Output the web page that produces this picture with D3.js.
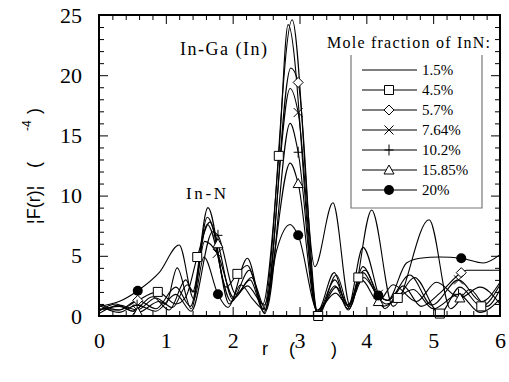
<!DOCTYPE html>
<html>
<head>
<meta charset="utf-8">
<script src="https://cdn.jsdelivr.net/npm/d3@7"></script>
<style>
  body { margin: 0; background: #fff; }
  svg { display: block; }
</style>
</head>
<body>
<svg id="chart" width="509" height="382"></svg>
<script>
// series names (mole fraction of InN) and their marker shapes
const seriesNames = ["1.5%", "4.5%", "5.7%", "7.64%", "10.2%", "15.85%", "20%"];
const markerTypes = ["none", "square", "diamond", "cross", "plus", "triangle", "circle"];

// |F(r)|, [r, value] knots
const in1_5 = [[0,0.4],[0.25,1.0],[0.5,0.4],[0.8,1.6],[1.05,0.5],[1.3,3.0],[1.4,2.0],[1.63,9.0],[1.95,1.0],[2.22,4.8],[2.46,0.6],[2.89,24.6],[3.23,4.1],[3.5,9.4],[3.76,0.8],[4.08,8.8],[4.4,0.8],[4.94,8.0],[5.26,0.6],[5.55,2.2],[5.8,0.8],[6,2.2]];
const in4_5 = [[0,0.6],[0.3,0.5],[0.55,1.2],[0.88,2.0],[1.15,1.0],[1.3,1.6],[1.47,4.9],[1.66,7.8],[1.9,2.4],[2.07,3.5],[2.22,4.2],[2.45,1.0],[2.69,13.3],[2.83,24.2],[3.28,0.0],[3.55,3.4],[3.75,0.6],[3.88,3.2],[3.98,3.8],[4.25,0.8],[4.47,1.5],[4.72,3.2],[5.1,0.2],[5.4,2.4],[5.72,0.8],[6,2.6]];
const in5_7 = [[0,1.0],[0.3,0.5],[0.58,1.3],[0.85,0.6],[1.15,2.4],[1.37,0.8],[1.62,7.6],[1.98,1.2],[2.25,3.8],[2.48,0.2],[2.87,20.6],[2.98,19.4],[3.27,0.4],[3.52,3.6],[3.72,0.6],[3.95,5.7],[4.28,0.6],[4.55,2.5],[4.82,0.8],[5.1,1.9],[5.42,3.6],[5.5,3.8],[6,3.8]];
const in7_64 = [[0,0.2],[0.3,0.9],[0.57,0.5],[0.85,1.5],[1.1,0.7],[1.32,2.6],[1.42,2.0],[1.58,6.2],[1.77,5.2],[2.02,1.5],[2.26,3.0],[2.47,0.3],[2.86,18.9],[2.98,16.9],[3.27,0.3],[3.53,3.0],[3.73,0.8],[3.95,4.1],[4.18,1.8],[4.32,1.3],[4.65,3.4],[4.98,0.9],[5.38,3.0],[5.72,1.2],[6,2.8]];
const in10_2 = [[0,0.9],[0.3,0.3],[0.57,0.9],[0.85,0.4],[1.15,1.8],[1.38,0.4],[1.7,7.0],[1.78,6.7],[2.05,1.8],[2.28,3.2],[2.5,0.5],[2.86,16.0],[2.98,13.6],[3.27,0.2],[3.53,2.5],[3.73,0.5],[3.95,3.6],[4.18,1.5],[4.3,1.0],[4.7,2.2],[5.0,0.6],[5.38,1.8],[5.7,0.3],[6,1.4]];
const in15_85 = [[0,0.5],[0.3,0.8],[0.58,0.3],[0.9,1.2],[1.0,1.0],[1.17,4.0],[1.38,0.6],[1.62,8.2],[1.78,6.0],[2.0,1.4],[2.22,2.5],[2.47,0.9],[2.86,12.7],[2.98,11.0],[3.26,0.5],[3.54,1.9],[3.72,0.9],[3.93,3.0],[4.18,1.2],[4.4,2.6],[4.75,1.2],[5.05,2.8],[5.4,1.5],[5.7,2.4],[6,1.0]];
const in20 = [[0,0.8],[0.3,1.2],[0.58,2.1],[0.9,3.6],[1.2,5.9],[1.42,1.4],[1.57,4.9],[1.78,1.8],[1.93,0.7],[2.12,2.6],[2.3,1.4],[2.48,0.5],[2.66,5.5],[2.86,7.6],[2.98,6.7],[3.28,0.3],[3.55,2.4],[3.74,0.9],[3.96,3.2],[4.18,1.7],[4.32,1.3],[4.6,4.4],[4.8,4.8],[5.1,4.9],[5.42,4.8],[5.75,4.4],[6,5.1]];

// r positions where a symbol sits on each curve
const markAt = [
  [],
  [0.88, 1.47, 2.07, 2.69, 3.28, 3.88, 4.47, 5.1, 5.72],
  [0.58, 2.98, 5.42],
  [0.57, 1.77, 2.98, 4.18, 5.38],
  [0.57, 1.78, 2.98, 4.18, 5.38],
  [0.58, 1.78, 2.98, 4.18, 5.4],
  [0.58, 1.78, 2.98, 4.18, 5.42]
];

const xTicks = [0, 1, 2, 3, 4, 5, 6];
const yTicks = [0, 5, 10, 15, 20, 25];

const allSeries = [in1_5, in4_5, in5_7, in7_64, in10_2, in15_85, in20];

const svg = d3.select("#chart");
const serif = "'Liberation Serif', 'Times New Roman', serif";
const sans = "'Liberation Sans', Arial, sans-serif";

const x = d3.scaleLinear().domain([0, 6]).range([99, 500]);
const y = d3.scaleLinear().domain([0, 25]).range([316, 15]);

svg.append("rect").attr("width", 509).attr("height", 382).attr("fill", "#fff");

// minor ticks
const xMinor = d3.range(0, 6.001, 0.2).filter(v => Math.abs(v - Math.round(v)) > 1e-6);
const yMinor = d3.range(0, 25.001, 1).filter(v => v % 5 !== 0);

function styleAxis(g) {
  g.select(".domain").remove();
  g.selectAll(".tick line").attr("stroke", "#000").attr("stroke-width", 1);
}

svg.append("g").attr("transform", "translate(0,316)")
  .call(d3.axisBottom(x).tickValues(xTicks).tickSize(-9).tickPadding(16).tickFormat(d3.format("d")))
  .call(styleAxis)
  .selectAll("text").attr("font-family", serif).attr("font-size", 22).attr("fill", "#000");
svg.append("g").attr("transform", "translate(0,316)")
  .call(d3.axisBottom(x).tickValues(xMinor).tickSize(-5).tickFormat(""))
  .call(styleAxis);
svg.append("g").attr("transform", "translate(0,15)")
  .call(d3.axisTop(x).tickValues(xTicks).tickSize(-9).tickFormat(""))
  .call(styleAxis);
svg.append("g").attr("transform", "translate(0,15)")
  .call(d3.axisTop(x).tickValues(xMinor).tickSize(-5).tickFormat(""))
  .call(styleAxis);

svg.append("g").attr("transform", "translate(99,0)")
  .call(d3.axisLeft(y).tickValues(yTicks).tickSize(-9).tickPadding(17).tickFormat(d3.format("d")))
  .call(styleAxis)
  .selectAll("text").attr("font-family", serif).attr("font-size", 22).attr("fill", "#000");
svg.append("g").attr("transform", "translate(99,0)")
  .call(d3.axisLeft(y).tickValues(yMinor).tickSize(-5).tickFormat(""))
  .call(styleAxis);
svg.append("g").attr("transform", "translate(500,0)")
  .call(d3.axisRight(y).tickValues(yTicks).tickSize(-9).tickFormat(""))
  .call(styleAxis);
svg.append("g").attr("transform", "translate(500,0)")
  .call(d3.axisRight(y).tickValues(yMinor).tickSize(-5).tickFormat(""))
  .call(styleAxis);

// curves
const line = d3.line()
  .x(d => x(d[0]))
  .y(d => y(d[1]))
  .curve(d3.curveMonotoneX);

svg.append("g").selectAll("path")
  .data(allSeries)
  .join("path")
  .attr("d", line)
  .attr("fill", "none")
  .attr("stroke", "#000")
  .attr("stroke-width", 1.1);

function markerPath(type) {
  switch (type) {
    case "square": return "M-4.5,-4.5H4.5V4.5H-4.5Z";
    case "diamond": return "M0,-5L5,0L0,5L-5,0Z";
    case "cross": return "M-4.5,-4.5L4.5,4.5M-4.5,4.5L4.5,-4.5";
    case "plus": return "M-4.5,0H4.5M0,-5.5V5.5";
    case "triangle": return "M0,-5L5,4L-5,4Z";
    default: return "";
  }
}

function drawMarker(g, type, px, py) {
  if (type === "none") return;
  if (type === "circle") {
    g.append("circle").attr("cx", px).attr("cy", py).attr("r", 5).attr("fill", "#000");
    return;
  }
  g.append("path")
    .attr("d", markerPath(type))
    .attr("transform", `translate(${px},${py})`)
    .attr("fill", (type === "cross" || type === "plus") ? "none" : "#fff")
    .attr("stroke", "#000")
    .attr("stroke-width", 1);
}

const markG = svg.append("g");
allSeries.forEach((s, i) => {
  markAt[i].forEach(r => {
    const k = s.find(d => Math.abs(d[0] - r) < 1e-6);
    if (k) drawMarker(markG, markerTypes[i], x(k[0]), y(k[1]));
  });
});

// frame
svg.append("rect")
  .attr("x", 99).attr("y", 15).attr("width", 401).attr("height", 301)
  .attr("fill", "none").attr("stroke", "#000").attr("stroke-width", 2);

// legend
const lg = svg.append("g");
lg.append("rect").attr("x", 351).attr("y", 55).attr("width", 131).attr("height", 153).attr("fill", "#fff");
lg.append("path")
  .attr("d", "M351,55V208H482V55")
  .attr("fill", "none").attr("stroke", "#777").attr("stroke-width", 1.2);
lg.append("text")
  .attr("x", 327).attr("y", 48)
  .attr("textLength", 163).attr("lengthAdjust", "spacing")
  .attr("font-family", serif).attr("font-size", 16)
  .text("Mole fraction of InN:");

seriesNames.forEach((name, i) => {
  const ly = 70 + 20 * i;
  lg.append("line").attr("x1", 362).attr("x2", 417).attr("y1", ly).attr("y2", ly)
    .attr("stroke", "#000").attr("stroke-width", 1.1);
  drawMarker(lg, markerTypes[i], 389, ly);
  lg.append("text").attr("x", 422).attr("y", ly + 5)
    .attr("font-family", serif).attr("font-size", 15)
    .text(name);
});

// peak annotations
svg.append("text").attr("x", 180).attr("y", 55)
  .attr("textLength", 87).attr("lengthAdjust", "spacing")
  .attr("font-family", serif).attr("font-size", 18)
  .text("In-Ga (In)");
svg.append("text").attr("x", 186).attr("y", 199)
  .attr("textLength", 40).attr("lengthAdjust", "spacing")
  .attr("font-family", serif).attr("font-size", 17)
  .text("In-N");

// axis titles (the Å glyph is blank in the original)
const xt = svg.append("text").attr("y", 355)
  .attr("font-family", sans).attr("font-size", 18);
xt.append("tspan").attr("x", 262).text("r");
xt.append("tspan").attr("x", 289).text("(");
xt.append("tspan").attr("x", 331).text(")");

const yt = svg.append("g").attr("transform", "translate(40,0) rotate(-90)")
  .attr("font-family", sans).attr("font-size", 18);
yt.append("text").attr("x", -224).text("\u00a6F(r)\u00a6");
yt.append("text").attr("x", -168).text("(");
yt.append("text").attr("x", -131).attr("y", -9).attr("font-size", 12).text("-4");
yt.append("text").attr("x", -114).text(")");
</script>
</body>
</html>
